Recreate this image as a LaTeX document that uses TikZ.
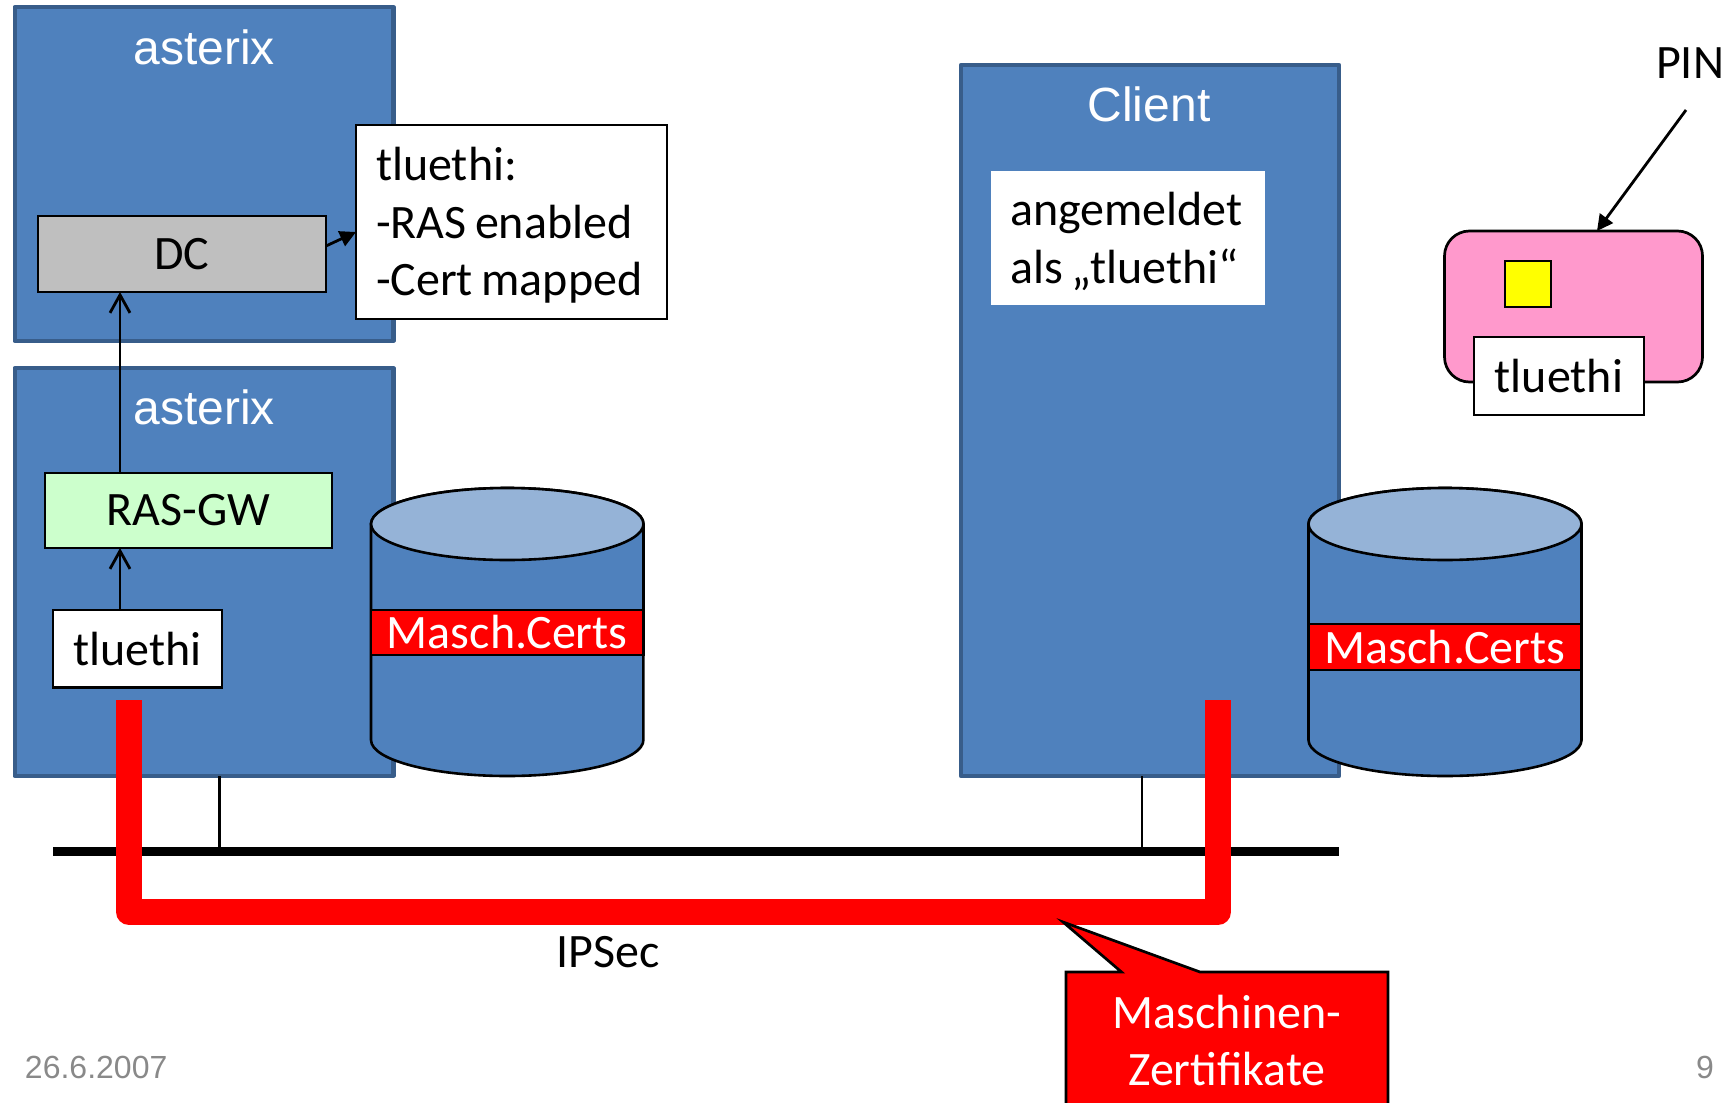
\documentclass[tikz,border=0pt]{standalone}
\usepackage{fontspec}
\setmainfont{Carlito}[WordSpace=0.78]
\newfontfamily\arialfont{Liberation Sans}
\usetikzlibrary{arrows.meta}
\definecolor{hostblue}{HTML}{4F81BD}
\definecolor{hostedge}{HTML}{385D8A}
\definecolor{cyltopblue}{HTML}{95B3D7}
\definecolor{gwgreen}{HTML}{CCFFCC}
\definecolor{cardpink}{HTML}{FF99CC}
\definecolor{chipyellow}{RGB}{255,255,0}
\definecolor{footgray}{HTML}{898989}
\tikzset{
  every node/.style={inner sep=0pt,outer sep=0pt,font=\fontsize{24pt}{28.8pt}\selectfont},
  hostbox/.style={draw=hostedge,fill=hostblue,line width=2.2pt,line join=round},
  hostname/.style={text=white,font=\arialfont\fontsize{24pt}{28.8pt}\selectfont},
  plainbox/.style={draw=black,fill=white,line width=1.35pt},
  certband/.style={draw=black,fill=red,text=white,line width=1.35pt},
  cylbody/.style={draw=black,fill=hostblue,line width=1.3pt},
  cyllid/.style={draw=black,fill=cyltopblue,line width=1.3pt},
  foottext/.style={text=footgray,font=\arialfont\fontsize{16pt}{19pt}\selectfont},
  thinline/.style={black,line width=1.4pt},
  openarrow/.style={thinline,-{Straight Barb[length=9pt,width=10pt,line width=1.4pt]}},
  fullarrow/.style={thinline,-{Triangle[length=8pt,width=8pt]}}
}
\begin{document}
\begin{tikzpicture}[x=0.5pt,y=-0.5pt]
\useasboundingbox (0,0) rectangle (1733,1102);

% left side
\node[hostbox,minimum width=189.3pt,minimum height=167pt] (hosttop) at (204,174) {};
\node[hostname] (hosttoplabel) at (204,47) {asterix};
\node[hostbox,minimum width=189.3pt,minimum height=204pt] (hostlow) at (204,572) {};
\node[hostname] (hostlowlabel) at (204,407) {asterix};

\node[plainbox,fill=black!25,minimum width=144pt,minimum height=38pt] (dc) at (182,254) {DC};
\node[plainbox,minimum width=155.5pt,minimum height=97pt] (note) at (511.5,222) {};
\node[anchor=west,align=left,font=\fontsize{24pt}{28.75pt}\selectfont] (notetext) at (376,225.5) {tluethi:\\-RAS enabled\\-Cert mapped};
\node[plainbox,fill=gwgreen,minimum width=143.5pt,minimum height=37.5pt] (rasgw) at (188.5,510.5) {RAS-GW};
\node[plainbox,minimum width=84.5pt,minimum height=38.75pt] (user) at (137.5,648.75) {tluethi};

\coordinate (uplink) at (120,0);
\coordinate (dcout) at (326,246);
\coordinate (notein) at (356,232);
\draw[openarrow] (rasgw.north -| uplink) -- (dc.south -| uplink);
\draw[openarrow] (user.north -| uplink) -- (rasgw.south -| uplink);
\draw[fullarrow] (dcout) -- (notein);

\draw[cylbody] (371,524) -- (371,740) arc[start angle=180,end angle=360,x radius=68.1pt,y radius=18pt]
  -- (643.5,524) arc[start angle=0,end angle=180,x radius=68.1pt,y radius=18pt] -- cycle;
\draw[cyllid] (507.25,524) ellipse [x radius=68.1pt,y radius=18pt];
\node[certband,minimum width=136.2pt,minimum height=22.5pt] (certsleft) at (507.25,632.5) {Masch.Certs};

% right side
\node[hostbox,minimum width=189pt,minimum height=355.5pt] (client) at (1150,420.5) {};
\node[hostname] (clientlabel) at (1149,104) {Client};
\node[fill=white,minimum width=137pt,minimum height=67pt] (login) at (1128,238) {};
\node[anchor=west,align=left,font=\fontsize{24pt}{29pt}\selectfont] (logintext) at (1010,241.5) {angemeldet\\als „tluethi“};

\draw[cylbody] (1308.5,524) -- (1308.5,740) arc[start angle=180,end angle=360,x radius=68.25pt,y radius=18pt]
  -- (1581.5,524) arc[start angle=0,end angle=180,x radius=68.25pt,y radius=18pt] -- cycle;
\draw[cyllid] (1445,524) ellipse [x radius=68.25pt,y radius=18pt];
\node[certband,minimum width=136.5pt,minimum height=23pt] (certsright) at (1445,647) {Masch.Certs};

% smartcard
\node[draw=black,fill=cardpink,line width=1.35pt,rounded corners=12.5pt,minimum width=129pt,minimum height=75.5pt] (card) at (1573.5,306.5) {};
\node[draw=black,fill=chipyellow,line width=1.35pt,minimum width=23pt,minimum height=23pt] (chip) at (1528,284) {};
\node[plainbox,minimum width=85pt,minimum height=39pt] (cardname) at (1559,376) {tluethi};
\node (pin) at (1690,63) {PIN};
\coordinate (pinfrom) at (1686,110);
\coordinate (pinto) at (1597,231);
\draw[fullarrow] (pinfrom) -- (pinto);

% network
\coordinate (busleft) at (53,851.5);
\coordinate (busright) at (1339,851.5);
\coordinate (tapleft) at (219.5,851.5);
\coordinate (tapright) at (1142,851.5);
\draw[thinline] (hostlow.south -| tapleft) -- (tapleft);
\draw[thinline] (client.south -| tapright) -- (tapright);
\draw[black,line width=4.5pt] (busleft) -- (busright);

\coordinate (tunnelleft) at (129,700);
\coordinate (tunnelright) at (1218,700);
\draw[red,line width=13pt,line join=round] (tunnelleft) -- (129,912) -- (1218,912) -- (tunnelright);
\node (ipsec) at (608,952) {IPSec};

\draw[draw=black,fill=red,line width=1.35pt] (1066,1115) -- (1066,972) -- (1121.5,972) -- (1063,922)
  -- (1200,972) -- (1388,972) -- (1388,1115) -- cycle;
\node[text=white,align=center,font=\fontsize{24pt}{28.5pt}\selectfont] (callout) at (1227,1040) {Maschinen-\\Zertifikate};

\node[foottext,anchor=west] (date) at (25,1067) {26.6.2007};
\node[foottext] (pagenum) at (1705,1067) {9};

\end{tikzpicture}
\end{document}
